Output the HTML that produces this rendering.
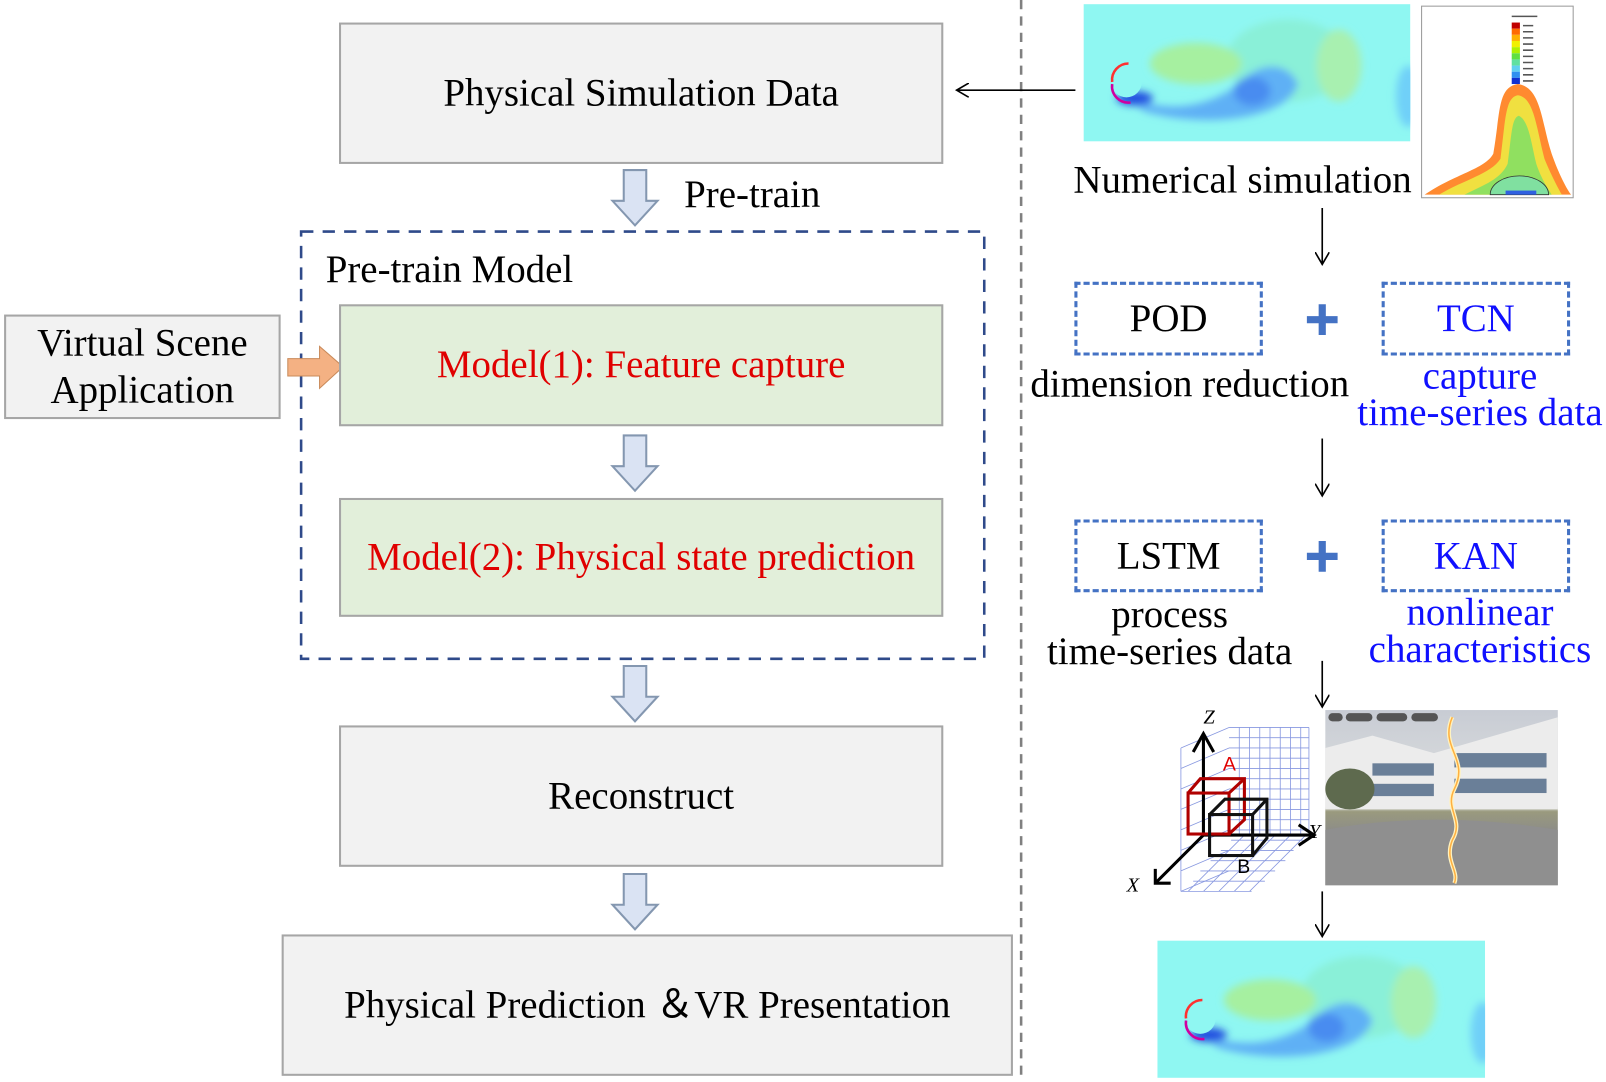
<!DOCTYPE html>
<html><head><meta charset="utf-8"><style>
html,body{margin:0;padding:0;background:#fff;overflow:hidden}
#w{position:absolute;left:0;top:0;width:1568px;height:1056px;transform:scale(1.0242,1.0246);transform-origin:0 0;font-family:"Liberation Serif",serif;color:#000}
.a{position:absolute}
.box{position:absolute;box-sizing:border-box;background:#f2f2f2;border:2px solid #a6a6a6;display:flex;align-items:center;justify-content:center;font-size:38px;text-align:center;line-height:1.22}
.g{background:#e2efda;color:#e00000}
.db{position:absolute;box-sizing:border-box;border:3px dashed #4472c4;display:flex;align-items:center;justify-content:center;font-size:38px}
.t{position:absolute;font-size:38px;white-space:nowrap;text-align:center;line-height:36px}
.bl{color:#1010ff}
</style></head><body><div id="w">
<svg class="a" style="left:0;top:0" width="1568" height="1056">
<defs>
<marker id="ar" markerWidth="14" markerHeight="14" refX="12" refY="7" orient="auto" markerUnits="userSpaceOnUse"><path d="M0,0 L12,7 L0,14" fill="none" stroke="#000" stroke-width="1.6"/></marker>
<g id="blk"><path d="M-11,0 H11 V30 H22 L0,54 L-22,30 H-11 Z" fill="#dae3f3" stroke="#8497b0" stroke-width="2"/></g>
<filter id="bf"><feGaussianBlur stdDeviation="4"/></filter>
<symbol id="flow" viewBox="0 0 320 134" preserveAspectRatio="none">
<rect width="320" height="134" fill="#8ff7f2"/>
<g filter="url(#bf)">
<ellipse cx="200" cy="55" rx="60" ry="40" fill="#8af0d8"/>
<ellipse cx="110" cy="58" rx="45" ry="20" fill="#a6f0a0"/>
<ellipse cx="250" cy="60" rx="22" ry="35" fill="#a8f0b0"/>
<path d="M30,85 C80,110 120,100 150,80 C170,55 200,55 210,78 C200,112 120,122 60,105 Z" fill="#5fb0f5"/>
<ellipse cx="165" cy="85" rx="18" ry="14" fill="#4a8cf0"/>
<ellipse cx="50" cy="92" rx="18" ry="7" fill="#2050e0"/>
<ellipse cx="318" cy="90" rx="12" ry="30" fill="#70d0f8"/>
</g>
<circle cx="42" cy="76" r="15" fill="#8ff7f2"/>
<path d="M28,76 A16,16 0 0 1 44,58" fill="none" stroke="#ff3030" stroke-width="2.5"/>
<path d="M28,78 A16,16 0 0 0 46,96" fill="none" stroke="#d000a0" stroke-width="2.5"/>
</symbol>
</defs>
<line x1="997" y1="0" x2="997" y2="1056" stroke="#808080" stroke-width="2.5" stroke-dasharray="9,7"/>
<use href="#blk" x="620" y="166"/>
<use href="#blk" x="620" y="425"/>
<use href="#blk" x="620" y="650"/>
<use href="#blk" x="620" y="853"/>
<rect x="294" y="226" width="667" height="417" fill="none" stroke="#2f4a8a" stroke-width="2.5" stroke-dasharray="12,9"/>
<path d="M281,350 H312 V338 L335,358 L312,379 V367 H281 Z" fill="#f4b183" stroke="#c98a5a" stroke-width="1"/>
<line x1="1050" y1="88" x2="934" y2="88" stroke="#000" stroke-width="1.6" marker-end="url(#ar)"/>
<line x1="1291" y1="203" x2="1291" y2="258" stroke="#000" stroke-width="1.6" marker-end="url(#ar)"/>
<line x1="1291" y1="428" x2="1291" y2="484" stroke="#000" stroke-width="1.6" marker-end="url(#ar)"/>
<line x1="1291" y1="645" x2="1291" y2="690" stroke="#000" stroke-width="1.6" marker-end="url(#ar)"/>
<line x1="1291" y1="870" x2="1291" y2="914" stroke="#000" stroke-width="1.6" marker-end="url(#ar)"/>
<path d="M1276,312 H1306 M1291,297 V327" stroke="#4472c4" stroke-width="7"/>
<path d="M1276,543 H1306 M1291,528 V558" stroke="#4472c4" stroke-width="7"/>
<use href="#flow" x="1058" y="4" width="319" height="134"/>
<use href="#flow" x="1130" y="918" width="320" height="134"/>
<rect x="1388" y="6" width="148" height="187" fill="#fff" stroke="#999" stroke-width="1"/>
<path d="M1391,190 C1420,170 1450,165 1458,150 C1465,110 1462,85 1482,82 C1505,85 1505,120 1515,150 C1522,170 1530,185 1534,190 Z" fill="#ff8a30"/>
<path d="M1405,190 C1430,175 1455,170 1465,155 C1470,115 1470,95 1482,93 C1498,95 1500,125 1508,155 C1515,172 1522,185 1525,190 Z" fill="#f0e040"/>
<path d="M1430,190 C1450,180 1465,175 1472,160 C1476,130 1476,115 1483,113 C1493,118 1495,140 1500,160 C1505,175 1512,185 1515,190 Z" fill="#90e060"/>
<path d="M1455,190 A28,18 0 0 1 1512,190 Z" fill="#80e0a0" stroke="#333" stroke-width="0.8"/>
<rect x="1470" y="186" width="30" height="4" fill="#3060e0"/>
<g>
<rect x="1476" y="22" width="8" height="6" fill="#c00000"/><rect x="1476" y="28" width="8" height="6" fill="#ff6a00"/><rect x="1476" y="34" width="8" height="6" fill="#ffb000"/><rect x="1476" y="40" width="8" height="6" fill="#f0f000"/><rect x="1476" y="46" width="8" height="6" fill="#b0f000"/><rect x="1476" y="52" width="8" height="6" fill="#60e040"/><rect x="1476" y="58" width="8" height="6" fill="#60e0a0"/><rect x="1476" y="64" width="8" height="6" fill="#60d0f0"/><rect x="1476" y="70" width="8" height="6" fill="#3090f0"/><rect x="1476" y="76" width="8" height="6" fill="#1030d0"/>
<path d="M1487,25 h10 M1487,31 h10 M1487,37 h10 M1487,43 h10 M1487,49 h10 M1487,55 h10 M1487,61 h10 M1487,67 h10 M1487,73 h10 M1487,79 h10 M1476,16 h25" stroke="#555" stroke-width="1.5"/>
</g>
<g stroke="#8898e0" stroke-width="0.8" fill="none">
<path d="M1152,730 L1200,710 L1278,710 L1278,820 L1230,885 L1152,885 Z" fill="#fff" stroke="none"/>
<path d="M1153,730 L1200,710 M1153,750 L1200,730 M1153,770 L1200,750 M1153,790 L1200,770 M1153,810 L1200,790 M1153,830 L1200,810 M1153,850 L1200,830 M1153,870 L1200,850 M1153,730 V870"/>
<path d="M1200,710 H1278 M1200,720 H1278 M1200,730 H1278 M1200,740 H1278 M1200,750 H1278 M1200,760 H1278 M1200,770 H1278 M1200,780 H1278 M1200,790 H1278 M1200,800 H1278 M1200,810 H1278"/>
<path d="M1210,710 V815 M1220,710 V815 M1230,710 V815 M1240,710 V815 M1250,710 V815 M1260,710 V815 M1270,710 V815 M1278,710 V815"/>
<path d="M1160,870 L1215,815 M1175,870 L1230,815 M1190,870 L1245,815 M1205,870 L1260,815 M1220,870 L1275,815 M1165,860 H1235 M1172,850 H1245 M1182,840 H1255 M1192,830 H1263 M1202,820 H1272 M1153,870 H1222"/>
</g>
<g stroke="#000" stroke-width="3" fill="none">
<path d="M1175,815 V718 M1165,734 L1175,716 L1185,734"/>
<path d="M1175,815 L1280,815 M1268,805 L1283,815 L1268,825"/>
<path d="M1175,815 L1128,862 M1128,848 L1128,862 L1143,862"/>
</g>
<g stroke="#b00000" stroke-width="3" fill="none"><rect x="1160" y="774" width="40" height="40"/><path d="M1160,774 L1172,760 H1215 V800 L1200,814 M1200,774 L1215,760"/></g>
<g stroke="#111" stroke-width="3" fill="none"><rect x="1181" y="795" width="42" height="40"/><path d="M1181,795 L1196,780 H1237 V818 L1223,835 M1223,795 L1237,780"/></g>
<text x="1194" y="752" font-family="Liberation Sans,sans-serif" font-size="19" fill="#e00000">A</text>
<text x="1208" y="852" font-family="Liberation Sans,sans-serif" font-size="19">B</text>
<text x="1175" y="706" font-size="20" font-style="italic">Z</text>
<text x="1278" y="818" font-size="20" font-style="italic">Y</text>
<text x="1100" y="870" font-size="20" font-style="italic">X</text>
<defs><linearGradient id="sk" x1="0" y1="0" x2="0" y2="1"><stop offset="0" stop-color="#c8ccd4"/><stop offset="0.55" stop-color="#dfe1e0"/><stop offset="0.58" stop-color="#9a9a7e"/><stop offset="0.7" stop-color="#8c8c88"/><stop offset="1" stop-color="#a0a0a0"/></linearGradient></defs>
<rect x="1294" y="693" width="227" height="171" fill="url(#sk)"/>
<path d="M1294,730 L1340,718 L1400,735 L1521,700 V790 H1294 Z" fill="#ececec"/>
<g fill="#6a7f98"><rect x="1420" y="735" width="90" height="14"/><rect x="1420" y="760" width="90" height="14"/><rect x="1340" y="745" width="60" height="12"/><rect x="1340" y="765" width="60" height="12"/></g>
<ellipse cx="1318" cy="770" rx="24" ry="20" fill="#5e6a4e"/>
<path d="M1294,810 Q1400,790 1521,810 V864 H1294 Z" fill="#8f8f8f"/>
<path d="M1418,700 C1405,730 1435,740 1420,770 C1410,790 1430,800 1418,820 C1410,840 1425,850 1420,862" stroke="#fff3c0" stroke-width="4" fill="none"/>
<path d="M1418,700 C1405,730 1435,740 1420,770 C1410,790 1430,800 1418,820 C1410,840 1425,850 1420,862" stroke="#ffb040" stroke-width="1.5" fill="none"/>
<g fill="#555"><rect x="1297" y="696" width="14" height="8" rx="4"/><rect x="1314" y="696" width="26" height="8" rx="4"/><rect x="1344" y="696" width="30" height="8" rx="4"/><rect x="1378" y="696" width="26" height="8" rx="4"/></g>
</svg>
<div class="box" style="left:331px;top:22px;width:590px;height:138px">Physical Simulation Data</div>
<div class="t" style="left:668px;top:172px">Pre-train</div>
<div class="t" style="left:318px;top:245px">Pre-train Model</div>
<div class="box g" style="left:331px;top:297px;width:590px;height:119px">Model(1): Feature capture</div>
<div class="box g" style="left:331px;top:486px;width:590px;height:116px">Model(2): Physical state prediction</div>
<div class="box" style="left:331px;top:708px;width:590px;height:138px">Reconstruct</div>
<div class="box" style="left:275px;top:912px;width:714px;height:138px">Physical Prediction ＆VR Presentation</div>
<div class="box" style="left:4px;top:307px;width:270px;height:102px">Virtual Scene<br>Application</div>
<div class="t" style="left:1048px;top:158px">Numerical simulation</div>
<div class="db" style="left:1049px;top:275px;width:184px;height:72px">POD</div>
<div class="db bl" style="left:1349px;top:275px;width:184px;height:72px">TCN</div>
<div class="t" style="left:1006px;top:357px">dimension reduction</div>
<div class="t bl" style="left:1325px;top:349px;width:240px">capture<br>time-series data</div>
<div class="db" style="left:1049px;top:507px;width:184px;height:71px">LSTM</div>
<div class="db bl" style="left:1349px;top:507px;width:184px;height:71px">KAN</div>
<div class="t" style="left:1022px;top:582px;width:240px">process<br>time-series data</div>
<div class="t bl" style="left:1325px;top:580px;width:240px">nonlinear<br>characteristics</div>
</div></body></html>
